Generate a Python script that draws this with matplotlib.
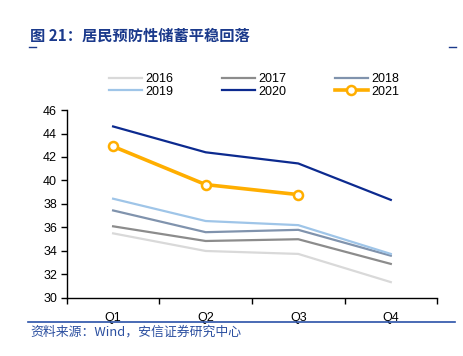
import matplotlib.pyplot as plt
from matplotlib.lines import Line2D

plt.rcParams['font.family'] = ['Liberation Sans', 'Noto Sans CJK SC', 'DejaVu Sans']

quarters = ['Q1', 'Q2', 'Q3', 'Q4']
years = ['2016', '2017', '2018', '2019', '2020', '2021']
v2016 = [35.5, 34.0, 33.75, 31.35]
v2017 = [36.1, 34.85, 35.0, 32.9]
v2018 = [37.45, 35.6, 35.8, 33.6]
v2019 = [38.45, 36.55, 36.2, 33.75]
v2020 = [44.6, 42.4, 41.45, 38.35]
v2021 = [42.9, 39.65, 38.8]

colors = ['#d9d9d9', '#8c8c8c', '#8093ad', '#9fc5e8', '#0c2a8f', '#ffae00']
series = [v2016, v2017, v2018, v2019, v2020]

fig = plt.figure(figsize=(4.64, 3.56), dpi=100)
fig.patch.set_facecolor('white')
ax = fig.add_axes([0.144, 0.163, 0.798, 0.528])

handles = []
for vals, col, yr in zip(series, colors[:5], years[:5]):
    h, = ax.plot(range(len(vals)), vals, color=col, lw=1.6, label=yr)
    handles.append(h)
h, = ax.plot(range(len(v2021)), v2021, color=colors[5], lw=2.6, marker='o',
             markersize=6.5, markerfacecolor='white', markeredgecolor=colors[5],
             markeredgewidth=1.8, label='2021')
handles.append(h)

ax.set_xlim(-0.5, 3.5)
ax.set_ylim(30, 46)
ax.set_yticks(range(30, 47, 2))
ax.set_xticks([-0.5, 0.5, 1.5, 2.5, 3.5])
ax.set_xticklabels([])
ax.set_xticks(range(4), minor=True)
ax.set_xticklabels(quarters, minor=True)
ax.tick_params(axis='x', which='major', length=4, direction='out', width=1)
ax.tick_params(axis='x', which='minor', length=0, pad=10, labelsize=9)
ax.tick_params(axis='y', length=4, direction='out', width=1, labelsize=9, pad=3)
for s in ['top', 'right']:
    ax.spines[s].set_visible(False)
for s in ['left', 'bottom']:
    ax.spines[s].set_linewidth(1)

# legend: 3 columns, row-major order
order = [0, 3, 1, 4, 2, 5]
leg = fig.legend([handles[i] for i in order], [years[i] for i in order], ncol=3,
                 loc='center', frameon=False, fontsize=9, handlelength=2.6,
                 handletextpad=0.3, columnspacing=3.9, labelspacing=0.05)
leg.set_bbox_to_anchor((0.548, 0.76), transform=fig.transFigure)

title_col = '#1b3a8c'
fig.text(0.065, 0.9, '图 21：居民预防性储蓄平稳回落', fontsize=11, fontweight='bold',
         color=title_col, family=['Noto Sans CJK SC', 'DejaVu Sans'], va='center')
fig.add_artist(Line2D([0.063, 0.078], [0.868, 0.868], color=title_col, lw=1))
fig.add_artist(Line2D([0.968, 0.983], [0.868, 0.868], color=title_col, lw=1))
fig.add_artist(Line2D([0.06, 0.98], [0.096, 0.096], color='#2a52a8', lw=1.2))
fig.text(0.065, 0.066, '资料来源：Wind，安信证券研究中心', fontsize=9.3, style='italic',
         color='#2b4fa0', family=['Noto Sans CJK SC', 'DejaVu Sans'], va='center')

fig.savefig('out.png', dpi=100)
